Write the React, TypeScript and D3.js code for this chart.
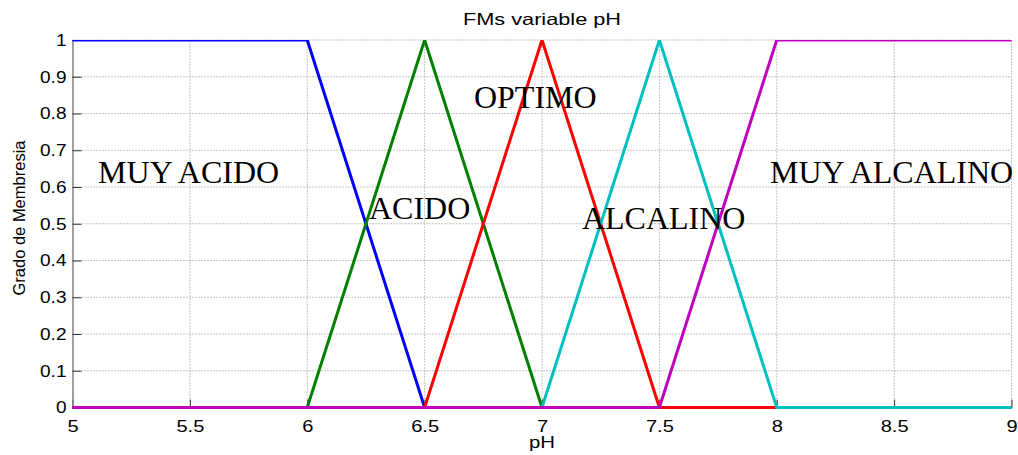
import React, { useEffect, useRef } from 'react';
import * as d3 from 'd3';

// membership functions for pH (x = pH, y = grado)
const muyAcido: [number, number][] = [[5, 1], [6, 1], [6.5, 0], [9, 0]];
const acido: [number, number][] = [[5, 0], [6, 0], [6.5, 1], [7, 0], [9, 0]];
const optimo: [number, number][] = [[5, 0], [6.5, 0], [7, 1], [7.5, 0], [9, 0]];
const alcalino: [number, number][] = [[5, 0], [7, 0], [7.5, 1], [8, 0], [9, 0]];
const muyAlcalino: [number, number][] = [[5, 0], [7.5, 0], [8, 1], [9, 1]];

const seriesColors = ['#0000ff', '#008000', '#ff0000', '#00bfbf', '#bf00bf'];

const labelNames = ['MUY ACIDO', 'ACIDO', 'OPTIMO', 'ALCALINO', 'MUY ALCALINO'];
const labelX = [5.109, 6.263, 6.71, 7.17, 7.971];
const labelY = [0.611, 0.514, 0.815, 0.486, 0.611];

const xTicks = [5, 5.5, 6, 6.5, 7, 7.5, 8, 8.5, 9];
const yTicks = [0, 0.1, 0.2, 0.3, 0.4, 0.5, 0.6, 0.7, 0.8, 0.9, 1];

const App = () => {
  const svgRef = useRef<SVGSVGElement>(null);
  const width = 1018;
  const height = 455;
  const margin = { top: 40, right: 6.5, bottom: 47.5, left: 72.5 };

  useEffect(() => {
    const x = d3.scaleLinear().domain([5, 9]).range([margin.left, width - margin.right]);
    const y = d3.scaleLinear().domain([0, 1]).range([height - margin.bottom, margin.top]);

    const svg = d3.select(svgRef.current);
    svg.selectAll('*').remove();

    svg.append('rect').attr('width', width).attr('height', height).attr('fill', '#fff');

    // grid
    const grid = svg.append('g').attr('stroke', '#8a8a8a').attr('stroke-dasharray', '1,2').attr('stroke-width', 1);
    grid.selectAll('.gx').data(xTicks.slice(1)).join('line')
      .attr('x1', d => x(d)).attr('x2', d => x(d))
      .attr('y1', y(0)).attr('y2', y(1));
    grid.selectAll('.gy').data(yTicks.slice(1)).join('line')
      .attr('class', 'gy')
      .attr('y1', d => y(d)).attr('y2', d => y(d))
      .attr('x1', x(5)).attr('x2', x(9));

    // axes
    const xAxis = svg.append('g')
      .attr('transform', `translate(0, ${y(0)})`)
      .call(d3.axisBottom(x).tickValues(xTicks).tickSizeInner(-8).tickSizeOuter(0).tickPadding(12).tickFormat(d3.format('~g')));
    const yAxis = svg.append('g')
      .attr('transform', `translate(${x(5)}, 0)`)
      .call(d3.axisLeft(y).tickValues(yTicks).tickSizeInner(-9).tickSizeOuter(0).tickPadding(6).tickFormat(d3.format('~g')));

    [xAxis, yAxis].forEach(g => {
      g.select('.domain').attr('stroke', '#808080').attr('stroke-width', 1.5);
      g.selectAll('.tick line').attr('stroke', '#333');
      g.selectAll('.tick text')
        .attr('fill', '#000')
        .style('font-family', 'Arial, "Liberation Sans", sans-serif')
        .style('font-size', '17px');
    });
    // MATLAB-ish wide tick labels
    xAxis.selectAll('.tick text').attr('transform', 'scale(1.18,1)');
    yAxis.selectAll('.tick text').attr('x', -6 / 1.12).attr('transform', 'scale(1.12,1)');
    xAxis.select('.domain').attr('d', `M${x(5)},0H${x(9)}`);

    // membership lines, clipped to top of axes
    svg.append('clipPath').attr('id', 'plotclip')
      .append('rect')
      .attr('x', x(5) - 2).attr('y', y(1))
      .attr('width', x(9) - x(5) + 4).attr('height', y(0) - y(1) + 4);

    const line = d3.line<[number, number]>().x(d => x(d[0])).y(d => y(d[1]));
    svg.append('g').attr('clip-path', 'url(#plotclip)')
      .selectAll('path')
      .data([muyAcido, acido, optimo, alcalino, muyAlcalino])
      .join('path')
      .attr('d', d => line(d))
      .attr('fill', 'none')
      .attr('stroke', (_, i) => seriesColors[i])
      .attr('stroke-width', 3)
      .attr('stroke-linejoin', 'miter');

    // serif labels
    svg.append('g')
      .selectAll('text')
      .data(labelNames)
      .join('text')
      .attr('x', (_, i) => x(labelX[i]))
      .attr('y', (_, i) => y(labelY[i]))
      .style('font-family', '"Times New Roman", "Liberation Serif", serif')
      .style('font-size', '32px')
      .attr('fill', '#000')
      .text(d => d);

    // title & axis labels
    const sans = 'Arial, "Liberation Sans", sans-serif';
    svg.append('text')
      .attr('x', (x(5) + x(9)) / 2).attr('y', 25)
      .attr('text-anchor', 'middle')
      .attr('textLength', 158).attr('lengthAdjust', 'spacingAndGlyphs')
      .style('font-family', sans).style('font-size', '16.5px')
      .text('FMs variable pH');

    svg.append('text')
      .attr('x', (x(5) + x(9)) / 2).attr('y', 448)
      .attr('text-anchor', 'middle')
      .attr('textLength', 26).attr('lengthAdjust', 'spacingAndGlyphs')
      .style('font-family', sans).style('font-size', '16px')
      .text('pH');

    svg.append('text')
      .attr('transform', `translate(25, 218) rotate(-90)`)
      .attr('text-anchor', 'middle')
      .attr('textLength', 155).attr('lengthAdjust', 'spacingAndGlyphs')
      .style('font-family', sans).style('font-size', '16.5px')
      .text('Grado de Membresia');
  }, []);

  return (
    <svg
      ref={svgRef}
      width={width}
      height={height}
      style={{ position: 'absolute', left: 0, top: 0, display: 'block' }}
    />
  );
};

export default App;
